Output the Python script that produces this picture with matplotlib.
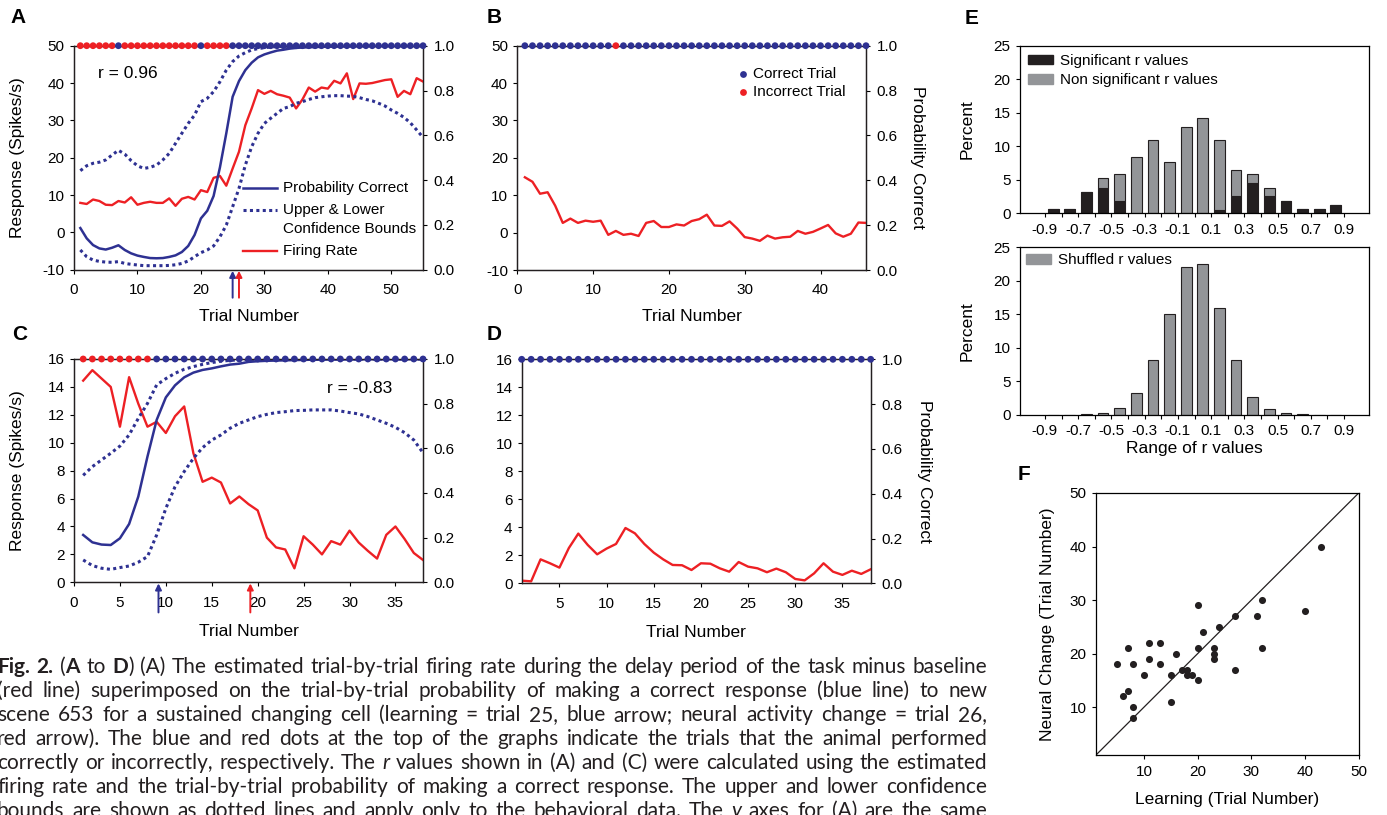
import re
import numpy as np
import matplotlib
matplotlib.use('Agg')
import matplotlib.pyplot as plt
from matplotlib.patches import Patch

plt.rcParams['font.family'] = ['Liberation Sans', 'DejaVu Sans']
plt.rcParams['axes.unicode_minus'] = False
plt.rcParams['axes.linewidth'] = 0.9
plt.rcParams['xtick.direction'] = 'out'
plt.rcParams['ytick.direction'] = 'out'
plt.rcParams['xtick.major.size'] = 3.2
plt.rcParams['ytick.major.size'] = 3.2
plt.rcParams['xtick.labelsize'] = 11
plt.rcParams['ytick.labelsize'] = 11

RED = '#ed2024'
BLUE = '#2e3192'
GRAY = '#939598'
BLACK = '#231f20'

# ---------------- data ----------------
# panel A (trials 1..55)
rate_A = [7.9, 7.6, 8.8, 8.4, 7.4, 7.3, 8.4, 8.0, 9.4, 7.4,
          7.9, 8.2, 7.9, 7.9, 9.1, 7.1, 9.0, 9.5, 8.8, 11.3,
          10.8, 14.6, 15.1, 12.5, 17.1, 21.6, 28.7, 33.2, 38.1, 37.1,
          37.9, 37.0, 36.6, 36.1, 33.2, 35.6, 38.8, 37.7, 38.8, 38.5,
          40.6, 39.9, 42.6, 35.7, 39.9, 39.8, 40.0, 40.4, 40.8, 41.0,
          36.3, 37.9, 37.0, 41.3, 40.4]
prob_A = [0.186, 0.14, 0.11, 0.095, 0.09, 0.098, 0.109, 0.088, 0.073, 0.063,
          0.057, 0.052, 0.051, 0.052, 0.057, 0.064, 0.079, 0.106, 0.155, 0.229,
          0.263, 0.329, 0.457, 0.609, 0.772, 0.842, 0.891, 0.924, 0.948, 0.961,
          0.970, 0.978, 0.982, 0.987, 0.990, 0.992, 0.993, 0.994, 0.995, 0.996,
          0.996, 0.997, 0.997, 0.998, 0.998, 0.998, 0.999, 0.999, 0.999, 0.999,
          0.999, 0.999, 0.999, 0.999, 0.999]
upper_A = [0.442, 0.464, 0.475, 0.48, 0.49, 0.512, 0.533, 0.516, 0.487, 0.464,
           0.452, 0.457, 0.467, 0.49, 0.519, 0.564, 0.609, 0.653, 0.69, 0.75,
           0.765, 0.795, 0.839, 0.891, 0.929, 0.954, 0.969, 0.981, 0.987, 0.991,
           0.994, 0.996, 0.997, 0.998, 0.999, 0.999, 0.999, 1.0, 1.0, 1.0,
           1.0, 1.0, 1.0, 1.0, 1.0, 1.0, 1.0, 1.0, 1.0, 1.0,
           1.0, 1.0, 1.0, 1.0, 1.0]
lower_A = [0.088, 0.058, 0.043, 0.037, 0.034, 0.033, 0.036, 0.028, 0.024, 0.021,
           0.018, 0.018, 0.018, 0.018, 0.019, 0.022, 0.028, 0.039, 0.058, 0.076,
           0.088, 0.106, 0.147, 0.199, 0.281, 0.363, 0.467, 0.549, 0.609, 0.653,
           0.676, 0.698, 0.72, 0.728, 0.743, 0.75, 0.76, 0.768, 0.772, 0.775,
           0.777, 0.777, 0.775, 0.774, 0.768, 0.76, 0.754, 0.743, 0.731, 0.713,
           0.698, 0.68, 0.656, 0.624, 0.591]
wrong_A = [1, 2, 3, 4, 5, 6, 8, 9, 10, 11, 12, 13, 14, 15, 16, 17, 18, 19, 21, 22, 23, 24]

# panel B (trials 1..46)
rate_B = [14.8, 13.6, 10.4, 10.8, 7.2, 2.6, 3.75, 2.6, 3.2, 2.9,
          3.2, -0.6, 0.45, -0.6, -0.3, -0.9, 2.6, 3.1, 1.5, 1.5,
          2.2, 1.9, 3.1, 3.6, 4.8, 1.9, 1.8, 3.0, 1.1, -1.2,
          -1.6, -2.2, -0.8, -1.6, -1.25, -1.1, 0.45, -0.3, 0.2, 1.1,
          2.05, -0.2, -1.1, -0.3, 2.7, 2.6]
wrong_B = [13]

# panel C (trials 1..38)
rate_C = [14.45, 15.2, 14.6, 14.0, 11.15, 14.7, 12.8, 11.15, 11.5, 10.7,
          11.9, 12.6, 9.25, 7.2, 7.5, 7.15, 5.65, 6.15, 5.6, 5.15,
          3.2, 2.5, 2.35, 1.0, 3.3, 2.7, 2.0, 2.95, 2.7, 3.7,
          2.85, 2.25, 1.7, 3.4, 4.0, 3.1, 2.1, 1.6]
prob_C = [0.212, 0.179, 0.169, 0.167, 0.197, 0.261, 0.384, 0.563, 0.727, 0.828,
          0.882, 0.918, 0.939, 0.951, 0.958, 0.967, 0.975, 0.979, 0.987, 0.99,
          0.992, 0.993, 0.994, 0.995, 0.996, 0.997, 0.997, 0.998, 0.998, 0.998,
          0.999, 0.999, 0.999, 0.999, 0.999, 0.999, 0.999, 0.999]
upper_C = [0.479, 0.518, 0.548, 0.578, 0.61, 0.66, 0.734, 0.801, 0.884, 0.912,
           0.936, 0.954, 0.966, 0.976, 0.984, 0.99, 0.994, 0.996, 0.998, 0.999,
           1.0, 1.0, 1.0, 1.0, 1.0, 1.0, 1.0, 1.0, 1.0, 1.0,
           1.0, 1.0, 1.0, 1.0, 1.0, 1.0, 1.0, 1.0]
lower_C = [0.1, 0.075, 0.063, 0.058, 0.066, 0.073, 0.09, 0.115, 0.212, 0.331,
           0.428, 0.496, 0.555, 0.603, 0.637, 0.66, 0.69, 0.712, 0.727, 0.742,
           0.752, 0.76, 0.764, 0.769, 0.77, 0.772, 0.772, 0.772, 0.767, 0.76,
           0.754, 0.742, 0.727, 0.712, 0.694, 0.67, 0.637, 0.58]
wrong_C = [1, 2, 3, 4, 5, 6, 7, 8]

# panel D (trials 1..38)
rate_D = [0.19, 0.14, 1.71, 1.43, 1.12, 2.52, 3.55, 2.74, 2.07, 2.48,
          2.81, 3.95, 3.57, 2.81, 2.19, 1.71, 1.31, 1.29, 0.95, 1.43,
          1.40, 1.07, 0.83, 1.52, 1.19, 1.07, 0.79, 1.05, 0.79, 0.31,
          0.21, 0.71, 1.43, 0.83, 0.6, 0.9, 0.67, 1.0]
wrong_D = []

# panel E
r_bins = [-0.85, -0.75, -0.65, -0.55, -0.45, -0.35, -0.25, -0.15, -0.05,
          0.05, 0.15, 0.25, 0.35, 0.45, 0.55, 0.65, 0.75, 0.85]
sig_pct = [0.7, 0.7, 3.2, 3.7, 1.8, 0, 0, 0, 0,
           0, 0.5, 2.6, 4.5, 2.6, 1.9, 0.65, 0.65, 1.3]
total_pct = [0.7, 0.7, 3.2, 5.2, 5.8, 8.4, 10.9, 7.7, 12.9,
             14.2, 10.9, 6.4, 5.8, 3.8, 1.9, 0.65, 0.65, 1.3]
shuffled_pct = [0, 0, 0.15, 0.3, 1.05, 3.2, 8.1, 15.0, 22.1,
                22.5, 16.0, 8.1, 2.7, 0.8, 0.3, 0.15, 0, 0]
r_ticks = [-0.9, -0.8, -0.7, -0.6, -0.5, -0.4, -0.3, -0.2, -0.1, 0.0,
           0.1, 0.2, 0.3, 0.4, 0.5, 0.6, 0.7, 0.8, 0.9]
r_ticklabels = ['-0.9', '', '-0.7', '', '-0.5', '', '-0.3', '', '-0.1', '',
                '0.1', '', '0.3', '', '0.5', '', '0.7', '', '0.9']

# panel F
learn_trial = [5, 7, 6, 7, 8, 8, 8, 10, 11, 11, 13, 13, 15, 15, 16, 17, 18,
               18, 19, 20, 20, 20, 21, 23, 23, 23, 24, 27, 27, 31, 32, 32, 40, 43]
neural_trial = [18, 21, 12, 13, 18, 10, 8, 16, 22, 19, 22, 18, 16, 11, 20, 17, 17,
                16, 16, 29, 21, 15, 24, 21, 20, 19, 25, 27, 17, 27, 30, 21, 28, 40]

caption = [
    "*Fig.* *2.* (*A* to *D*) (A) The estimated trial-by-trial firing rate during the delay period of the task minus baseline",
    "(red line) superimposed on the trial-by-trial probability of making a correct response (blue line) to new",
    "scene 653 for a sustained changing cell (learning = trial 25, blue arrow; neural activity change = trial 26,",
    "red arrow). The blue and red dots at the top of the graphs indicate the trials that the animal performed",
    "correctly or incorrectly, respectively. The _r_ values shown in (A) and (C) were calculated using the estimated",
    "firing rate and the trial-by-trial probability of making a correct response. The upper and lower confidence",
    "bounds are shown as dotted lines and apply only to the behavioral data. The _y_ axes for (A) are the same",
]

# ---------------- figure ----------------
W, H = 1387, 815
fig = plt.figure(figsize=(W / 100, H / 100), dpi=100)


def ax_at(x0, y0, x1, y1):
    return fig.add_axes([x0 / W, 1 - y1 / H, (x1 - x0) / W, (y1 - y0) / H])


def trial_panel(box, rate, xlim, xticks, ylim, yticks, wrong,
                prob=None, upper=None, lower=None):
    ax = ax_at(*box)
    trials = np.arange(1, len(rate) + 1)
    ax.plot(trials, rate, color=RED, lw=1.7, zorder=3)
    ax.set_xlim(xlim)
    ax.set_ylim(ylim)
    ax.set_xticks(xticks)
    ax.set_yticks(yticks)
    ax.tick_params(axis='x', pad=6.5)
    ax2 = ax.twinx()
    ax2.set_ylim(0, 1)
    ax2.set_yticks([0, 0.2, 0.4, 0.6, 0.8, 1.0])
    ax2.set_yticklabels(['0.0', '0.2', '0.4', '0.6', '0.8', '1.0'])
    ax2.tick_params(axis='y', pad=4.5)
    if prob is not None:
        ax2.plot(trials, prob, color=BLUE, lw=1.8)
        for b in (upper, lower):
            ax2.plot(trials, b, color=BLUE, lw=2.2, ls=(0, (1, 1.1)),
                     dash_capstyle='butt')
    cols = [RED if t in wrong else BLUE for t in trials]
    ax2.scatter(trials, np.ones(len(trials)), c=cols, s=24, lw=0,
                clip_on=False, zorder=6)
    for a in (ax, ax2):
        for s in a.spines.values():
            s.set_color(BLACK)
    return ax, ax2


def arrow(ax, x, color, y0):
    ax.annotate('', xy=(x, -0.005), xycoords=('data', 'axes fraction'),
                xytext=(x, y0), textcoords=('data', 'axes fraction'),
                arrowprops=dict(arrowstyle='-|>', color=color, lw=1.4,
                                mutation_scale=9, shrinkA=0, shrinkB=0),
                annotation_clip=False)


LABFS = 12.5

# A
axA, axA2 = trial_panel((74, 45.7, 423, 269.7), rate_A, (0, 55), range(0, 51, 10),
                        (-10, 50), range(-10, 51, 10), wrong_A, prob_A, upper_A, lower_A)
axA.set_xlabel('Trial Number', fontsize=LABFS)
axA.xaxis.set_label_coords(0.5, -0.175)
axA.set_ylabel('Response (Spikes/s)', fontsize=LABFS)
axA.yaxis.set_label_coords(-0.14, 0.5)
axA.text(0.069, 0.878, 'r = 0.96', transform=axA.transAxes, fontsize=12.5, va='center')
arrow(axA, 25, BLUE, -0.125)
arrow(axA, 26, RED, -0.125)
tr = axA.transAxes
axA.plot([0.484, 0.582], [0.365, 0.365], color=BLUE, lw=1.8, transform=tr)
axA.plot([0.484, 0.582], [0.266, 0.266], color=BLUE, lw=2.2, ls=(0, (1, 1.1)),
         dash_capstyle='butt', transform=tr)
axA.plot([0.484, 0.582], [0.083, 0.083], color=RED, lw=1.7, transform=tr)
for yy, s in [(0.365, 'Probability Correct'), (0.266, 'Upper & Lower'),
              (0.182, 'Confidence Bounds'), (0.083, 'Firing Rate')]:
    axA.text(0.6, yy, s, transform=tr, fontsize=11, va='center')

# B
axB, axB2 = trial_panel((517.3, 45.7, 866, 270), rate_B, (0, 46), range(0, 41, 10),
                        (-10, 50), range(-10, 51, 10), wrong_B)
axB.set_xlabel('Trial Number', fontsize=LABFS)
axB.xaxis.set_label_coords(0.5, -0.175)
axB2.set_ylabel('Probability Correct', fontsize=LABFS, rotation=270, va='bottom')
axB2.yaxis.set_label_coords(1.126, 0.5)
trB = axB.transAxes
axB.scatter([0.647], [0.874], s=24, color=BLUE, lw=0, transform=trB)
axB.scatter([0.647], [0.794], s=24, color=RED, lw=0, transform=trB)
axB.text(0.676, 0.874, 'Correct Trial', transform=trB, fontsize=11, va='center')
axB.text(0.676, 0.794, 'Incorrect Trial', transform=trB, fontsize=11, va='center')

# C
axC, axC2 = trial_panel((74, 359, 423, 582.3), rate_C, (0, 38), range(0, 36, 5),
                        (0, 16), range(0, 17, 2), wrong_C, prob_C, upper_C, lower_C)
axC.set_xlabel('Trial Number', fontsize=LABFS)
axC.xaxis.set_label_coords(0.5, -0.185)
axC.set_ylabel('Response (Spikes/s)', fontsize=LABFS)
axC.yaxis.set_label_coords(-0.14, 0.5)
axC.text(0.725, 0.87, 'r = -0.83', transform=axC.transAxes, fontsize=12.5, va='center')
arrow(axC, 9.2, BLUE, -0.135)
arrow(axC, 19.2, RED, -0.135)

# D
axD, axD2 = trial_panel((521.7, 359.3, 870.7, 583.3), rate_D, (1, 38), range(5, 36, 5),
                        (0, 16), range(0, 17, 2), wrong_D)
axD.set_xlabel('Trial Number', fontsize=LABFS)
axD.xaxis.set_label_coords(0.5, -0.185)
axD2.set_ylabel('Probability Correct', fontsize=LABFS, rotation=270, va='bottom')
axD2.yaxis.set_label_coords(1.132, 0.5)

# E top
nonsig_pct = [t - s for t, s in zip(total_pct, sig_pct)]
axE1 = ax_at(1020, 45.7, 1369, 213.3)
axE1.bar(r_bins, sig_pct, width=0.065, color=BLACK, edgecolor=BLACK, lw=0.8)
axE1.bar(r_bins, nonsig_pct, bottom=sig_pct, width=0.065, color=GRAY,
         edgecolor=BLACK, lw=0.8)
axE2 = ax_at(1020, 247.3, 1369, 414.7)
axE2.bar(r_bins, shuffled_pct, width=0.065, color=GRAY, edgecolor=BLACK, lw=0.8)
for a in (axE1, axE2):
    a.set_xlim(-1.05, 1.05)
    a.set_ylim(0, 25)
    a.set_yticks(range(0, 26, 5))
    a.set_xticks(r_ticks)
    a.set_xticklabels(r_ticklabels)
    a.set_ylabel('Percent', fontsize=LABFS)
    a.yaxis.set_label_coords(-0.129, 0.5)
axE1.legend(handles=[Patch(color=BLACK, label='Significant r values'),
                     Patch(color=GRAY, label='Non significant r values')],
            loc='upper left', frameon=False, fontsize=11, handlelength=1.6,
            handleheight=0.55, handletextpad=0.5, borderaxespad=0.15,
            labelspacing=0.35)
axE2.legend(handles=[Patch(color=GRAY, label='Shuffled r values')],
            loc='upper left', frameon=False, fontsize=11, handlelength=1.6,
            handleheight=0.55, handletextpad=0.5, borderaxespad=0.0)
axE2.set_xlabel('Range of r values', fontsize=LABFS, labelpad=2)

# F
axF = ax_at(1095.7, 493, 1358.7, 755.3)
axF.plot([1, 50], [1, 50], color=BLACK, lw=0.9)
axF.scatter(learn_trial, neural_trial, s=26, color=BLACK, lw=0, zorder=3)
axF.set_xlim(1, 50)
axF.set_ylim(1, 50)
axF.set_xticks(range(10, 51, 10))
axF.set_yticks(range(10, 51, 10))
axF.set_xlabel('Learning (Trial Number)', fontsize=LABFS, labelpad=10)
axF.set_ylabel('Neural Change (Trial Number)', fontsize=LABFS)
axF.yaxis.set_label_coords(-0.155, 0.5)

# panel letters
for s, x, y in [('A', 10, 17.5), ('B', 487, 17.5), ('C', 12, 334.5), ('D', 487, 334.5),
                ('E', 965, 18.3), ('F', 1018, 475)]:
    fig.text(x / W, 1 - y / H, s, fontsize=15, fontweight='bold', va='center')

# caption, justified word by word
CAP_FONT = ['Lato', 'DejaVu Sans']
CAP_FS = 15
CAP_X0, CAP_X1 = -3, 987
renderer = fig.canvas.get_renderer()
for i, line in enumerate(caption):
    ybase = 1 - (673 + 24 * i) / H
    words = line.split(' ')
    placed, widths = [], []
    for w in words:
        parts = [p for p in re.split(r'(\*[^*]+\*|_[^_]+_)', w) if p]
        ts = []
        for p in parts:
            kw = {}
            if p.startswith('*'):
                p, kw['fontweight'] = p[1:-1], 'bold'
            elif p.startswith('_') and len(p) > 1:
                p, kw['fontstyle'] = p[1:-1], 'italic'
            t = fig.text(0, ybase, p, fontsize=CAP_FS, family=CAP_FONT,
                         va='baseline', color=BLACK, **kw)
            ts.append((t, t.get_window_extent(renderer).width))
        placed.append(ts)
        widths.append(sum(b for _, b in ts))
    gap = (CAP_X1 - CAP_X0 - sum(widths)) / (len(words) - 1)
    x = CAP_X0
    for ts in placed:
        for t, bw in ts:
            t.set_x(x / W)
            x += bw
        x += gap

fig.savefig('out.png', dpi=100)
